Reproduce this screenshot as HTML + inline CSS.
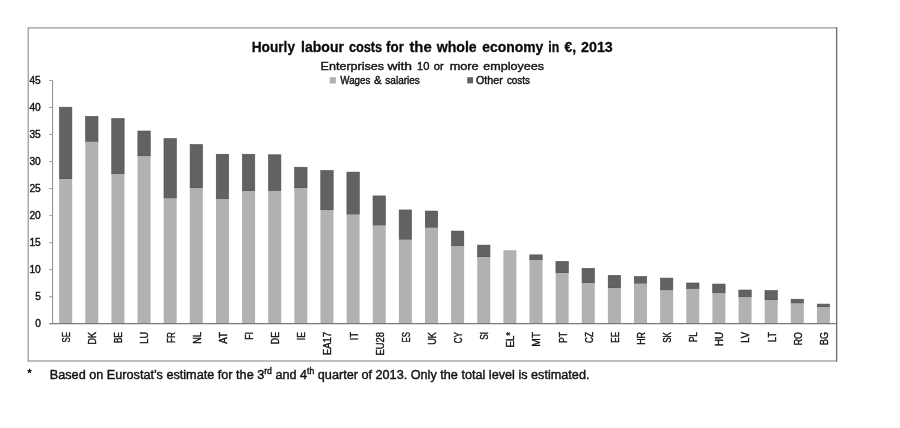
<!DOCTYPE html>
<html lang="en">
<head>
<meta charset="utf-8">
<title>Hourly labour costs for the whole economy in €, 2013</title>
<style>
html,body{margin:0;padding:0;background:#fff;}
body{width:900px;height:428px;overflow:hidden;}
svg{display:block;}
text{font-family:"Liberation Sans",sans-serif;fill:#111;stroke:#111;stroke-width:0.3px;}
.ti{font-size:14.1px;font-weight:bold;fill:#0a0a0a;}
.st{font-size:11.6px;fill:#111;stroke-width:0.4px;}
.lg{font-size:10.4px;fill:#111;stroke-width:0.4px;}
.yl{font-size:10.2px;fill:#111;stroke-width:0.4px;}
.xl{font-size:10px;fill:#111;stroke-width:0.36px;}
.fn{font-size:13.25px;fill:#111;stroke-width:0.42px;}
.sup{font-size:9px;}
</style>
</head>
<body>
<svg width="900" height="428" viewBox="0 0 900 428">
<rect x="0" y="0" width="900" height="428" fill="#ffffff"/>
<rect x="28.2" y="27.9" width="808.4" height="333.1" fill="none" stroke="#8a8a8a" stroke-width="1.1"/>
<line x1="836.6" y1="27.3" x2="836.6" y2="361.6" stroke="#6a6a6a" stroke-width="1.2"/>
<rect x="59.47" y="107.20" width="12.4" height="71.85" fill="#626262" stroke="#4e4e4e" stroke-width="0.6"/>
<rect x="59.17" y="179.06" width="13.0" height="144.74" fill="#b1b1b1"/>
<rect x="85.59" y="116.40" width="12.4" height="25.39" fill="#626262" stroke="#4e4e4e" stroke-width="0.6"/>
<rect x="85.30" y="141.79" width="13.0" height="182.01" fill="#b1b1b1"/>
<rect x="111.73" y="118.56" width="12.4" height="55.63" fill="#626262" stroke="#4e4e4e" stroke-width="0.6"/>
<rect x="111.43" y="174.19" width="13.0" height="149.61" fill="#b1b1b1"/>
<rect x="137.86" y="131.00" width="12.4" height="25.12" fill="#626262" stroke="#4e4e4e" stroke-width="0.6"/>
<rect x="137.56" y="156.12" width="13.0" height="167.68" fill="#b1b1b1"/>
<rect x="163.99" y="138.58" width="12.4" height="59.74" fill="#626262" stroke="#4e4e4e" stroke-width="0.6"/>
<rect x="163.69" y="198.31" width="13.0" height="125.49" fill="#b1b1b1"/>
<rect x="190.12" y="144.52" width="12.4" height="43.51" fill="#626262" stroke="#4e4e4e" stroke-width="0.6"/>
<rect x="189.81" y="188.04" width="13.0" height="135.76" fill="#b1b1b1"/>
<rect x="216.25" y="154.26" width="12.4" height="44.70" fill="#626262" stroke="#4e4e4e" stroke-width="0.6"/>
<rect x="215.94" y="198.96" width="13.0" height="124.84" fill="#b1b1b1"/>
<rect x="242.38" y="154.26" width="12.4" height="36.75" fill="#626262" stroke="#4e4e4e" stroke-width="0.6"/>
<rect x="242.07" y="191.01" width="13.0" height="132.79" fill="#b1b1b1"/>
<rect x="268.50" y="154.80" width="12.4" height="36.10" fill="#626262" stroke="#4e4e4e" stroke-width="0.6"/>
<rect x="268.20" y="190.90" width="13.0" height="132.90" fill="#b1b1b1"/>
<rect x="294.63" y="167.24" width="12.4" height="20.79" fill="#626262" stroke="#4e4e4e" stroke-width="0.6"/>
<rect x="294.33" y="188.04" width="13.0" height="135.76" fill="#b1b1b1"/>
<rect x="320.77" y="170.49" width="12.4" height="39.51" fill="#626262" stroke="#4e4e4e" stroke-width="0.6"/>
<rect x="320.47" y="210.00" width="13.0" height="113.80" fill="#b1b1b1"/>
<rect x="346.90" y="172.11" width="12.4" height="42.43" fill="#626262" stroke="#4e4e4e" stroke-width="0.6"/>
<rect x="346.60" y="214.54" width="13.0" height="109.26" fill="#b1b1b1"/>
<rect x="373.03" y="195.91" width="12.4" height="29.56" fill="#626262" stroke="#4e4e4e" stroke-width="0.6"/>
<rect x="372.73" y="225.47" width="13.0" height="98.33" fill="#b1b1b1"/>
<rect x="399.16" y="209.97" width="12.4" height="29.72" fill="#626262" stroke="#4e4e4e" stroke-width="0.6"/>
<rect x="398.86" y="239.69" width="13.0" height="84.11" fill="#b1b1b1"/>
<rect x="425.29" y="211.05" width="12.4" height="16.68" fill="#626262" stroke="#4e4e4e" stroke-width="0.6"/>
<rect x="424.99" y="227.74" width="13.0" height="96.06" fill="#b1b1b1"/>
<rect x="451.42" y="231.07" width="12.4" height="15.12" fill="#626262" stroke="#4e4e4e" stroke-width="0.6"/>
<rect x="451.12" y="246.18" width="13.0" height="77.62" fill="#b1b1b1"/>
<rect x="477.55" y="245.13" width="12.4" height="11.87" fill="#626262" stroke="#4e4e4e" stroke-width="0.6"/>
<rect x="477.25" y="257.00" width="13.0" height="66.80" fill="#b1b1b1"/>
<rect x="503.38" y="250.24" width="13.0" height="73.56" fill="#b1b1b1"/>
<rect x="529.80" y="254.87" width="12.4" height="5.11" fill="#626262" stroke="#4e4e4e" stroke-width="0.6"/>
<rect x="529.50" y="259.98" width="13.0" height="63.82" fill="#b1b1b1"/>
<rect x="555.93" y="261.36" width="12.4" height="11.65" fill="#626262" stroke="#4e4e4e" stroke-width="0.6"/>
<rect x="555.63" y="273.01" width="13.0" height="50.79" fill="#b1b1b1"/>
<rect x="582.06" y="268.39" width="12.4" height="14.63" fill="#626262" stroke="#4e4e4e" stroke-width="0.6"/>
<rect x="581.76" y="283.02" width="13.0" height="40.78" fill="#b1b1b1"/>
<rect x="608.19" y="275.42" width="12.4" height="12.57" fill="#626262" stroke="#4e4e4e" stroke-width="0.6"/>
<rect x="607.89" y="287.99" width="13.0" height="35.81" fill="#b1b1b1"/>
<rect x="634.32" y="276.50" width="12.4" height="7.11" fill="#626262" stroke="#4e4e4e" stroke-width="0.6"/>
<rect x="634.02" y="283.61" width="13.0" height="40.19" fill="#b1b1b1"/>
<rect x="660.45" y="278.12" width="12.4" height="12.14" fill="#626262" stroke="#4e4e4e" stroke-width="0.6"/>
<rect x="660.15" y="290.26" width="13.0" height="33.54" fill="#b1b1b1"/>
<rect x="686.58" y="282.99" width="12.4" height="5.92" fill="#626262" stroke="#4e4e4e" stroke-width="0.6"/>
<rect x="686.28" y="288.91" width="13.0" height="34.89" fill="#b1b1b1"/>
<rect x="712.71" y="284.07" width="12.4" height="9.11" fill="#626262" stroke="#4e4e4e" stroke-width="0.6"/>
<rect x="712.41" y="293.19" width="13.0" height="30.61" fill="#b1b1b1"/>
<rect x="738.84" y="290.02" width="12.4" height="7.06" fill="#626262" stroke="#4e4e4e" stroke-width="0.6"/>
<rect x="738.54" y="297.08" width="13.0" height="26.72" fill="#b1b1b1"/>
<rect x="764.97" y="290.56" width="12.4" height="9.44" fill="#626262" stroke="#4e4e4e" stroke-width="0.6"/>
<rect x="764.67" y="300.00" width="13.0" height="23.80" fill="#b1b1b1"/>
<rect x="791.10" y="299.22" width="12.4" height="4.14" fill="#626262" stroke="#4e4e4e" stroke-width="0.6"/>
<rect x="790.80" y="303.35" width="13.0" height="20.45" fill="#b1b1b1"/>
<rect x="817.23" y="304.09" width="12.4" height="2.95" fill="#626262" stroke="#4e4e4e" stroke-width="0.6"/>
<rect x="816.93" y="307.03" width="13.0" height="16.77" fill="#b1b1b1"/>
<line x1="52.6" y1="80.4" x2="52.6" y2="323.8" stroke="#8a8a8a" stroke-width="1"/>
<line x1="49.2" y1="323.6" x2="836.6" y2="323.6" stroke="#7a7a7a" stroke-width="1.1"/>
<line x1="49.2" y1="323.80" x2="52.6" y2="323.80" stroke="#9a9a9a" stroke-width="1"/>
<text class="yl" x="40.8" y="327.40" text-anchor="end">0</text>
<line x1="49.2" y1="296.76" x2="52.6" y2="296.76" stroke="#9a9a9a" stroke-width="1"/>
<text class="yl" x="40.8" y="300.36" text-anchor="end">5</text>
<line x1="49.2" y1="269.71" x2="52.6" y2="269.71" stroke="#9a9a9a" stroke-width="1"/>
<text class="yl" x="40.8" y="273.31" text-anchor="end">10</text>
<line x1="49.2" y1="242.67" x2="52.6" y2="242.67" stroke="#9a9a9a" stroke-width="1"/>
<text class="yl" x="40.8" y="246.27" text-anchor="end">15</text>
<line x1="49.2" y1="215.62" x2="52.6" y2="215.62" stroke="#9a9a9a" stroke-width="1"/>
<text class="yl" x="40.8" y="219.22" text-anchor="end">20</text>
<line x1="49.2" y1="188.58" x2="52.6" y2="188.58" stroke="#9a9a9a" stroke-width="1"/>
<text class="yl" x="40.8" y="192.18" text-anchor="end">25</text>
<line x1="49.2" y1="161.53" x2="52.6" y2="161.53" stroke="#9a9a9a" stroke-width="1"/>
<text class="yl" x="40.8" y="165.13" text-anchor="end">30</text>
<line x1="49.2" y1="134.49" x2="52.6" y2="134.49" stroke="#9a9a9a" stroke-width="1"/>
<text class="yl" x="40.8" y="138.09" text-anchor="end">35</text>
<line x1="49.2" y1="107.44" x2="52.6" y2="107.44" stroke="#9a9a9a" stroke-width="1"/>
<text class="yl" x="40.8" y="111.04" text-anchor="end">40</text>
<line x1="49.2" y1="80.40" x2="52.6" y2="80.40" stroke="#9a9a9a" stroke-width="1"/>
<text class="yl" x="40.8" y="84.00" text-anchor="end">45</text>
<text class="xl" transform="translate(70.07,342.43) rotate(-90)" textLength="10.43" lengthAdjust="spacingAndGlyphs">SE</text>
<text class="xl" transform="translate(96.20,344.48) rotate(-90)" textLength="12.48" lengthAdjust="spacingAndGlyphs">DK</text>
<text class="xl" transform="translate(122.33,343.35) rotate(-90)" textLength="11.35" lengthAdjust="spacingAndGlyphs">BE</text>
<text class="xl" transform="translate(148.46,343.68) rotate(-90)" textLength="11.68" lengthAdjust="spacingAndGlyphs">LU</text>
<text class="xl" transform="translate(174.59,343.03) rotate(-90)" textLength="11.03" lengthAdjust="spacingAndGlyphs">FR</text>
<text class="xl" transform="translate(200.72,343.73) rotate(-90)" textLength="11.73" lengthAdjust="spacingAndGlyphs">NL</text>
<text class="xl" transform="translate(226.84,343.73) rotate(-90)" textLength="11.73" lengthAdjust="spacingAndGlyphs">AT</text>
<text class="xl" transform="translate(252.97,339.83) rotate(-90)" textLength="7.83" lengthAdjust="spacingAndGlyphs">FI</text>
<text class="xl" transform="translate(279.10,344.14) rotate(-90)" textLength="12.14" lengthAdjust="spacingAndGlyphs">DE</text>
<text class="xl" transform="translate(305.23,340.14) rotate(-90)" textLength="8.14" lengthAdjust="spacingAndGlyphs">IE</text>
<text class="xl" transform="translate(331.37,354.89) rotate(-90)" textLength="22.89" lengthAdjust="spacingAndGlyphs">EA17</text>
<text class="xl" transform="translate(357.50,340.13) rotate(-90)" textLength="8.13" lengthAdjust="spacingAndGlyphs">IT</text>
<text class="xl" transform="translate(383.62,355.58) rotate(-90)" textLength="23.58" lengthAdjust="spacingAndGlyphs">EU28</text>
<text class="xl" transform="translate(409.75,342.43) rotate(-90)" textLength="10.43" lengthAdjust="spacingAndGlyphs">ES</text>
<text class="xl" transform="translate(435.88,344.77) rotate(-90)" textLength="12.77" lengthAdjust="spacingAndGlyphs">UK</text>
<text class="xl" transform="translate(462.01,343.23) rotate(-90)" textLength="11.23" lengthAdjust="spacingAndGlyphs">CY</text>
<text class="xl" transform="translate(488.14,339.83) rotate(-90)" textLength="7.83" lengthAdjust="spacingAndGlyphs">SI</text>
<text class="xl" transform="translate(514.27,347.47) rotate(-90)" textLength="15.47" lengthAdjust="spacingAndGlyphs">EL*</text>
<text class="xl" transform="translate(540.40,346.77) rotate(-90)" textLength="14.77" lengthAdjust="spacingAndGlyphs">MT</text>
<text class="xl" transform="translate(566.53,343.04) rotate(-90)" textLength="11.04" lengthAdjust="spacingAndGlyphs">PT</text>
<text class="xl" transform="translate(592.66,343.02) rotate(-90)" textLength="11.02" lengthAdjust="spacingAndGlyphs">CZ</text>
<text class="xl" transform="translate(618.79,342.74) rotate(-90)" textLength="10.74" lengthAdjust="spacingAndGlyphs">EE</text>
<text class="xl" transform="translate(644.92,344.83) rotate(-90)" textLength="12.83" lengthAdjust="spacingAndGlyphs">HR</text>
<text class="xl" transform="translate(671.05,342.77) rotate(-90)" textLength="10.77" lengthAdjust="spacingAndGlyphs">SK</text>
<text class="xl" transform="translate(697.18,342.31) rotate(-90)" textLength="10.31" lengthAdjust="spacingAndGlyphs">PL</text>
<text class="xl" transform="translate(723.31,345.91) rotate(-90)" textLength="13.91" lengthAdjust="spacingAndGlyphs">HU</text>
<text class="xl" transform="translate(749.44,342.87) rotate(-90)" textLength="10.87" lengthAdjust="spacingAndGlyphs">LV</text>
<text class="xl" transform="translate(775.57,341.98) rotate(-90)" textLength="9.98" lengthAdjust="spacingAndGlyphs">LT</text>
<text class="xl" transform="translate(801.70,345.26) rotate(-90)" textLength="13.26" lengthAdjust="spacingAndGlyphs">RO</text>
<text class="xl" transform="translate(827.83,344.92) rotate(-90)" textLength="12.92" lengthAdjust="spacingAndGlyphs">BG</text>
<text class="ti" y="52.2"><tspan x="251.70" textLength="43.30" lengthAdjust="spacingAndGlyphs">Hourly</tspan> <tspan x="301.10" textLength="42.80" lengthAdjust="spacingAndGlyphs">labour</tspan> <tspan x="348.90" textLength="33.30" lengthAdjust="spacingAndGlyphs">costs</tspan> <tspan x="386.10" textLength="17.80" lengthAdjust="spacingAndGlyphs">for</tspan> <tspan x="409.40" textLength="22.30" lengthAdjust="spacingAndGlyphs">the</tspan> <tspan x="436.70" textLength="40.00" lengthAdjust="spacingAndGlyphs">whole</tspan> <tspan x="482.20" textLength="61.10" lengthAdjust="spacingAndGlyphs">economy</tspan> <tspan x="548.30" textLength="10.90" lengthAdjust="spacingAndGlyphs">in</tspan> <tspan x="564.40" textLength="11.70" lengthAdjust="spacingAndGlyphs">€,</tspan> <tspan x="581.10" textLength="31.70" lengthAdjust="spacingAndGlyphs">2013</tspan></text>
<text class="st" y="70.4"><tspan x="320.60" textLength="63.50" lengthAdjust="spacingAndGlyphs">Enterprises</tspan> <tspan x="387.40" textLength="24.70" lengthAdjust="spacingAndGlyphs">with</tspan> <tspan x="417.00" textLength="12.40" lengthAdjust="spacingAndGlyphs">10</tspan> <tspan x="433.70" textLength="10.00" lengthAdjust="spacingAndGlyphs">or</tspan> <tspan x="449.70" textLength="29.00" lengthAdjust="spacingAndGlyphs">more</tspan> <tspan x="483.30" textLength="60.70" lengthAdjust="spacingAndGlyphs">employees</tspan></text>
<rect x="329.7" y="77.2" width="6.2" height="6.3" fill="#b1b1b1"/>
<text class="lg" y="83.7"><tspan x="340.30" textLength="30.00" lengthAdjust="spacingAndGlyphs">Wages</tspan> <tspan x="374.10" textLength="7.60" lengthAdjust="spacingAndGlyphs">&amp;</tspan> <tspan x="385.30" textLength="34.60" lengthAdjust="spacingAndGlyphs">salaries</tspan></text>
<rect x="467.2" y="77.2" width="5.8" height="6.2" fill="#626262"/>
<text class="lg" y="83.7"><tspan x="476.00" textLength="26.70" lengthAdjust="spacingAndGlyphs">Other</tspan> <tspan x="506.90" textLength="23.10" lengthAdjust="spacingAndGlyphs">costs</tspan></text>
<text class="fn" x="27.6" y="376.9" style="font-size:10.5px;stroke-width:0.5px">*</text>
<g transform="translate(49.8,378.6) scale(0.9565,1)"><text class="fn" x="0" y="0">Based on Eurostat’s estimate for the 3<tspan class="sup" dy="-4.8">rd</tspan><tspan dy="4.8"> and 4</tspan><tspan class="sup" dy="-4.8">th</tspan><tspan dy="4.8"> quarter of 2013. Only the total level is estimated.</tspan></text></g>
</svg>
</body>
</html>
